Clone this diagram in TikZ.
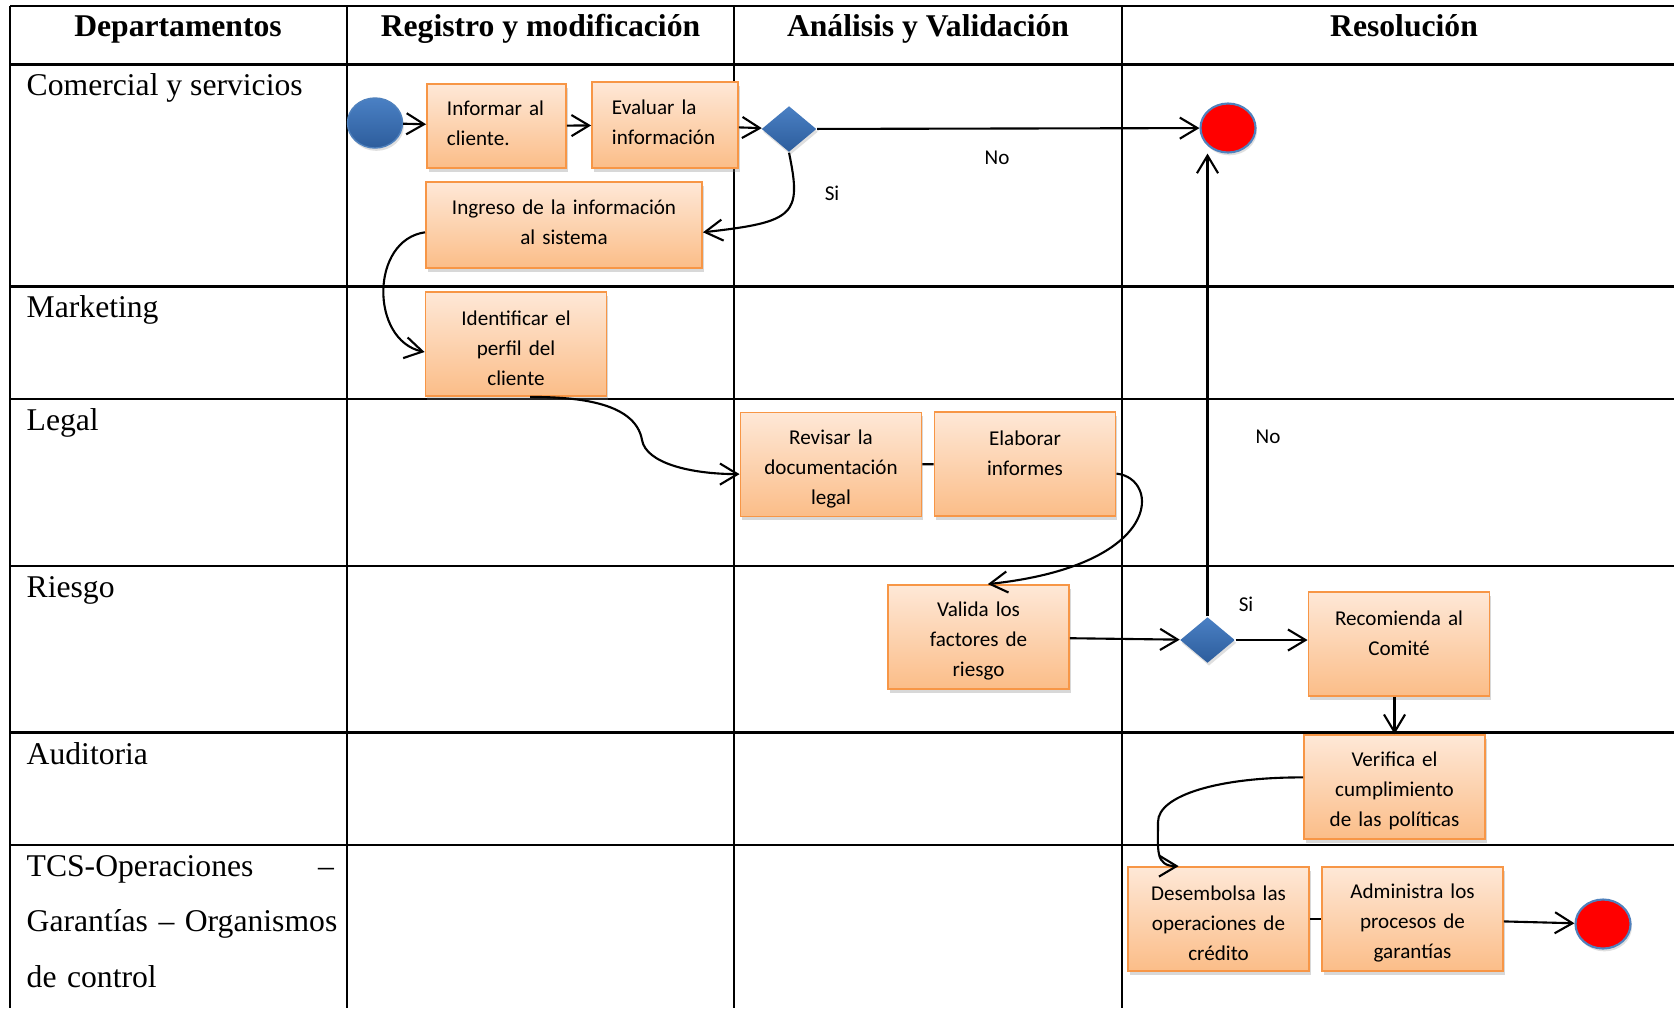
\documentclass[tikz,border=0pt]{standalone}
\usepackage{fontspec}
\setmainfont{Liberation Serif}
\newfontfamily\calibri{Carlito}
\usetikzlibrary{arrows.meta,shapes.geometric,shadows}
\definecolor{taskline}{HTML}{F79646}
\definecolor{tasktop}{HTML}{FEE8D7}
\definecolor{taskbot}{HTML}{FBBD88}
\definecolor{bluetop}{HTML}{4A80C4}
\definecolor{bluebot}{HTML}{2D5D9C}
\definecolor{blueline}{HTML}{4F81BD}
\definecolor{stopred}{HTML}{FF0000}
\tikzset{
  header/.style={font=\bfseries\fontsize{9}{11}\selectfont,anchor=base,inner sep=0pt},
  lane/.style={font=\fontsize{9}{15.8}\selectfont,anchor=base west,inner sep=0pt},
  tableline/.style={draw=black,line width=0.65pt},
  task/.style={rectangle,draw=taskline,line width=0.5pt,top color=tasktop,bottom color=taskbot,
    drop shadow={shadow xshift=0.5pt,shadow yshift=-1pt,opacity=0.3},
    font=\calibri\fontsize{6}{8.5}\selectfont,align=center,text width=1.41cm,inner xsep=0.2cm,inner ysep=1pt,minimum height=1.04cm,
    execute at begin node={\rule{0pt}{6.5pt}}},
  tasktwo/.style={task,execute at begin node={},execute at end node={\rule[-4pt]{0pt}{0pt}}},
  startdot/.style={ellipse,draw=blueline,line width=0.4pt,top color=bluetop,bottom color=bluebot,
    minimum width=0.55cm,minimum height=0.5cm,inner sep=0pt,drop shadow={shadow xshift=0.4pt,shadow yshift=-0.8pt,opacity=0.25}},
  enddot/.style={ellipse,draw=blueline,line width=0.6pt,fill=stopred,
    minimum width=0.55cm,minimum height=0.49cm,inner sep=0pt,drop shadow={shadow xshift=0.4pt,shadow yshift=-0.8pt,opacity=0.25}},
  decision/.style={diamond,top color=bluetop,bottom color=bluebot,
    minimum width=0.55cm,minimum height=0.46cm,inner sep=0pt,drop shadow={shadow xshift=0.4pt,shadow yshift=-0.8pt,opacity=0.25}},
  lbl/.style={font=\calibri\fontsize{6}{8}\selectfont,inner sep=1pt},
  arr/.style={-{Straight Barb[length=5pt,width=6pt]},line width=0.6pt},
  link/.style={line width=0.6pt}
}

\begin{document}
\begin{tikzpicture}[x=0.01cm,y=-0.01cm]
\path[use as bounding box] (0,0) rectangle (1674,1008);
\fill[white] (0,0) rectangle (1674,1008);

% table
\foreach \y in {6,64.5,286.5,399,566,732.5,845}
  \draw[tableline] (10,\y) -- (1674,\y);
\foreach \x in {10,347,734,1122}
  \draw[tableline] (\x,6) -- (\x,1008);

\foreach \xc/\txt [count=\i] in {178/Departamentos,540.5/{Registro y modificación},928/{Análisis y Validación},1404/Resolución}
  \node[header] (col\i) at (\xc,36) {\txt};

\foreach \yb/\txt [count=\i] in {95/{Comercial y servicios},317/Marketing,430/Legal,597/Riesgo,764/Auditoria}
  \node[lane] (lane\i) at (26,\yb) {\txt};
\node[lane,text width=3.07cm,align=left] (lane6) at (26,876) {TCS-Operaciones\hfill –\\\mbox{Garantías – Organismos}\\de control};

% comercial y servicios
\node[startdot] (ini) at (375,123) {};
\node[tasktwo,text width=0.99cm,align=left,minimum height=0.84cm] (inf) at (496.5,126) {Informar al\\cliente.};
\node[tasktwo,text width=1.06cm,align=left,minimum height=0.86cm] (eva) at (665,125) {Evaluar la\\información};
\node[decision] (dec1) at (789,129) {};
\node[enddot] (fin1) at (1228,128) {};
\node[tasktwo,text width=2.36cm,minimum height=0.86cm] (ing) at (564,225) {Ingreso de la información\\al sistema};
\node[lbl] (lno1) at (997,158) {No};
\node[lbl] (lsi1) at (832,193) {Si};

% marketing y legal
\node[task] (ide) at (516,344) {Identificar el\\perfil del\\cliente};
\node[task] (rev) at (831,464.5) {Revisar la\\documentación\\legal};
\node[task] (ela) at (1025,464) {Elaborar\\informes\\~};

% riesgo
\node[task] (val) at (978.5,637) {Valida los\\factores de\\riesgo};
\node[decision] (dec2) at (1207.5,640) {};
\node[task] (rec) at (1399,644) {Recomienda al\\Comité\\~};
\node[lbl] (lno2) at (1268,437) {No};
\node[lbl] (lsi2) at (1246,604) {Si};

% auditoria y operaciones
\node[task] (ver) at (1394.5,787) {Verifica el\\cumplimiento\\de las políticas};
\node[task] (des) at (1218.5,919) {Desembolsa las\\operaciones de\\crédito};
\node[task] (adm) at (1412.5,919) {Administra los\\procesos de\\garantías};
\node[enddot] (fin2) at (1603,924) {};

% flujo
\draw[arr] (ini) -- (inf);
\draw[arr] (inf) -- (eva);
\draw[arr] (eva) -- (dec1);
\draw[arr] (dec1) -- (fin1);
\draw[arr] (dec1.south) .. controls (802,215) and (795,222) .. (ing.-3);
\draw[arr] (ing.183) .. controls (370,240) and (370,340) .. (ide.185);
\draw[arr] (ide.-75) .. controls (570,397) and (635,400) .. (642,440) .. controls (646,463) and (690,474) .. (rev.186);
\draw[link] (rev) -- (ela);
\draw[arr] (ela.-6) .. controls (1160,478) and (1165,565) .. (val.80);
\draw[arr] (val) -- (dec2);
\draw[arr] (dec2.north) -- (dec2.north |- fin1.south);
\draw[arr] (dec2.east) -- (dec2.east -| rec.west);
\draw[arr] (rec.south -| ver.north) -- (ver.north);
\draw[arr] (ver.174) .. controls (1220,777) and (1158,795) .. (1158,822) .. controls (1158,850) and (1155,866) .. (des.127);
\draw[link] (des) -- (adm);
\draw[arr] (adm) -- (fin2);
\end{tikzpicture}
\end{document}
